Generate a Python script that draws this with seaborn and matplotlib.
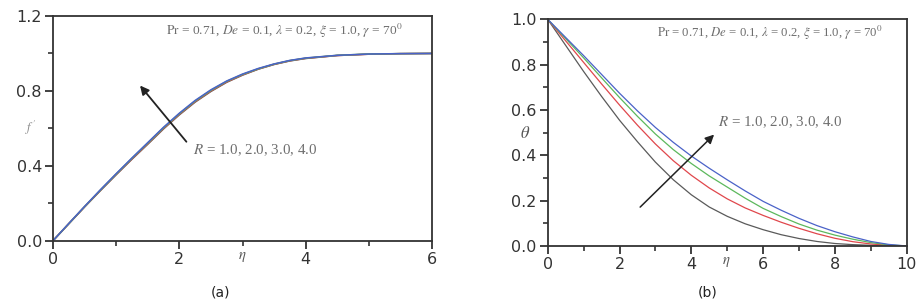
import numpy as np
import pandas as pd
import matplotlib
matplotlib.use("Agg")
import matplotlib.pyplot as plt
import seaborn as sns
from matplotlib.ticker import MultipleLocator

# ---------------- data ----------------
R_labels = ["1.0", "2.0", "3.0", "4.0"]
line_colors = ["#5a5a5a", "#e0474c", "#5cb85c", "#4a62c8"]

eta_a = [0.0, 0.25, 0.5, 0.75, 1.0, 1.25, 1.5, 1.75, 2.0, 2.25, 2.5, 2.75, 3.0,
         3.25, 3.5, 3.75, 4.0, 4.5, 5.0, 5.5, 6.0]
fp_R1 = [0.0, 0.090, 0.180, 0.267, 0.352, 0.435, 0.515, 0.597, 0.672, 0.740, 0.797, 0.846, 0.884,
         0.916, 0.941, 0.960, 0.973, 0.989, 0.996, 0.999, 1.0]
fp_R2 = [0.0, 0.091, 0.181, 0.269, 0.354, 0.437, 0.518, 0.600, 0.675, 0.743, 0.800, 0.848, 0.886,
         0.917, 0.942, 0.961, 0.974, 0.989, 0.996, 0.999, 1.0]
fp_R3 = [0.0, 0.091, 0.182, 0.270, 0.356, 0.440, 0.521, 0.603, 0.678, 0.746, 0.803, 0.851, 0.888,
         0.918, 0.943, 0.962, 0.975, 0.990, 0.997, 0.999, 1.0]
fp_R4 = [0.0, 0.092, 0.183, 0.272, 0.358, 0.442, 0.524, 0.606, 0.681, 0.749, 0.806, 0.853, 0.890,
         0.920, 0.944, 0.963, 0.976, 0.990, 0.997, 0.999, 1.0]

eta_b = [0.0, 0.5, 1.0, 1.5, 2.0, 2.5, 3.0, 3.5, 4.0, 4.5, 5.0,
         5.5, 6.0, 6.5, 7.0, 7.5, 8.0, 8.5, 9.0, 9.5, 10.0]
th_R1 = [1.0, 0.885, 0.770, 0.660, 0.555, 0.460, 0.370, 0.292, 0.226, 0.172, 0.131,
         0.098, 0.072, 0.050, 0.033, 0.020, 0.011, 0.006, 0.003, 0.001, 0.0]
th_R2 = [1.0, 0.905, 0.810, 0.715, 0.622, 0.533, 0.450, 0.376, 0.312, 0.256, 0.208,
         0.168, 0.135, 0.105, 0.078, 0.054, 0.034, 0.019, 0.009, 0.003, 0.0]
th_R3 = [1.0, 0.915, 0.830, 0.742, 0.655, 0.572, 0.494, 0.425, 0.364, 0.309, 0.260,
         0.211, 0.166, 0.130, 0.097, 0.070, 0.048, 0.030, 0.015, 0.005, 0.0]
th_R4 = [1.0, 0.920, 0.840, 0.757, 0.674, 0.596, 0.523, 0.457, 0.397, 0.343, 0.292,
         0.243, 0.197, 0.158, 0.122, 0.090, 0.063, 0.040, 0.020, 0.007, 0.0]

params_text = r"$\mathrm{Pr}$ = 0.71, $De$ = 0.1, $\lambda$ = 0.2, $\xi$ = 1.0, $\gamma$ = 70$^{0}$"
R_text = r"$R$ = 1.0, 2.0, 3.0, 4.0"

df_a = pd.DataFrame({
    "eta": eta_a * 4,
    "val": fp_R1 + fp_R2 + fp_R3 + fp_R4,
    "R": sum([[r] * len(eta_a) for r in R_labels], []),
})
df_b = pd.DataFrame({
    "eta": eta_b * 4,
    "val": th_R1 + th_R2 + th_R3 + th_R4,
    "R": sum([[r] * len(eta_b) for r in R_labels], []),
})

# ---------------- style ----------------
sns.set_theme(style="ticks")
plt.rcParams["font.family"] = ["DejaVu Sans"]
plt.rcParams["mathtext.fontset"] = "stix"

spine_c = "#333333"
text_c = "#333333"
gray_txt = "#6e6e6e"

fig = plt.figure(figsize=(9.24, 3.06), dpi=100)
W, H = 924, 306
ax1 = fig.add_axes([53 / W, 1 - 240.7 / H, (432 - 53) / W, (240.7 - 16) / H])
ax2 = fig.add_axes([547.7 / W, 1 - 246 / H, (906.7 - 547.7) / W, (246 - 19.3) / H])

pal = dict(zip(R_labels, line_colors))
sns.lineplot(data=df_a, x="eta", y="val", hue="R", palette=pal, ax=ax1,
             legend=False, linewidth=1.1)
sns.lineplot(data=df_b, x="eta", y="val", hue="R", palette=pal, ax=ax2,
             legend=False, linewidth=0.9)

def style_axis(ax, xlim, ylim, xmaj, xmin, ymaj, ymin, yfmt):
    ax.set_xlim(*xlim)
    ax.set_ylim(*ylim)
    ax.xaxis.set_major_locator(MultipleLocator(xmaj))
    ax.xaxis.set_minor_locator(MultipleLocator(xmin))
    ax.yaxis.set_major_locator(MultipleLocator(ymaj))
    ax.yaxis.set_minor_locator(MultipleLocator(ymin))
    ax.yaxis.set_major_formatter(matplotlib.ticker.FormatStrFormatter(yfmt))
    for s in ax.spines.values():
        s.set_visible(True)
        s.set_color(spine_c)
        s.set_linewidth(1.3)
    ax.tick_params(which="major", direction="out", length=6, width=1.3,
                   color=spine_c, labelsize=11.5, labelcolor=text_c, pad=2)
    ax.tick_params(which="minor", direction="out", length=3.5, width=1.2,
                   color=spine_c)
    ax.tick_params(top=False, right=False, which="both")
    ax.set_xlabel("")
    ax.set_ylabel("")

style_axis(ax1, (0, 6), (0, 1.2), 2, 1, 0.4, 0.2, "%.1f")
style_axis(ax2, (0, 10), (0, 1.0), 2, 1, 0.2, 0.1, "%.1f")

# axis labels
ax1.text(-0.06, 0.5, r"$f\,'$", transform=ax1.transAxes, ha="center", va="center",
         fontsize=9, color="#888888")
ax1.text(3.0, -0.07, r"$\eta$", transform=ax1.get_xaxis_transform(),
         ha="center", va="center", fontsize=10.5, color="#555555")
ax2.text(-0.063, 0.5, r"$\theta$", transform=ax2.transAxes, ha="center", va="center",
         fontsize=12, color="#555555")
ax2.text(4.98, -0.07, r"$\eta$", transform=ax2.get_xaxis_transform(),
         ha="center", va="center", fontsize=10.5, color="#555555")

# parameter annotations
ax1.text(0.297, 0.935, params_text, transform=ax1.transAxes, ha="left", va="center",
         fontsize=9.6, color=gray_txt, family=["Liberation Serif", "DejaVu Serif"])
ax2.text(0.304, 0.94, params_text, transform=ax2.transAxes, ha="left", va="center",
         fontsize=9.2, color=gray_txt, family=["Liberation Serif", "DejaVu Serif"])

# R annotations with arrows
ax1.annotate("", xy=(1.35, 0.84), xytext=(2.14, 0.517),
             arrowprops=dict(arrowstyle="-|>", color="#222222", lw=1.3,
                             mutation_scale=13))
ax1.text(2.22, 0.485, R_text, ha="left", va="center", fontsize=10.8,
         color=gray_txt, family=["Liberation Serif", "DejaVu Serif"])

ax2.annotate("", xy=(4.69, 0.50), xytext=(2.52, 0.163),
             arrowprops=dict(arrowstyle="-|>", color="#222222", lw=1.1,
                             mutation_scale=13))
ax2.text(4.75, 0.546, R_text, ha="left", va="center", fontsize=10.8,
         color=gray_txt, family=["Liberation Serif", "DejaVu Serif"])

# captions
fig.text(220 / W, 1 - 293 / H, "(a)", ha="center", va="center", fontsize=10, color="#222222")
fig.text(708 / W, 1 - 293 / H, "(b)", ha="center", va="center", fontsize=10, color="#222222")

fig.savefig("out.png", dpi=100, facecolor="white")
